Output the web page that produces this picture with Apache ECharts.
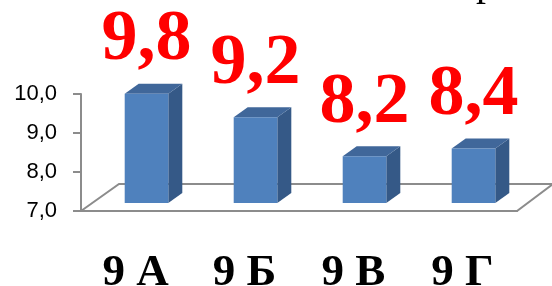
<!DOCTYPE html>
<html>
<head>
<meta charset="utf-8">
<script src="https://cdn.jsdelivr.net/npm/echarts@6/dist/echarts.min.js"></script>
<style>
  html, body { margin: 0; padding: 0; background: #fff; }
  #chart { width: 552px; height: 286px; }
</style>
</head>
<body>
<div id="chart"></div>
<script>
const categories = ['9 А', '9 Б', '9 В', '9 Г'];
const values = [9.8, 9.2, 8.2, 8.4];
const yMin = 7, yMax = 10, yStep = 1;

// 3d look: floor depth and where the bars sit inside it
const DEPTH_X = 36, DEPTH_Y = -27;
const SHIFT_X = 11, SHIFT_Y = -8;
const BAR_DX = 14, BAR_DY = -10;

const SERIF = 'Liberation Serif';

function commaNum(v, d) {
  return v.toFixed(d).replace('.', ',');
}

function renderFloor(params, api) {
  const a = api.coord([0, yMin]);
  const b = api.coord([categories.length - 1, yMin]);
  const half = api.size([1, 0])[0] / 2;
  const x0 = a[0] - half, x1 = b[0] + half, y = a[1];
  return {
    type: 'polygon',
    shape: { points: [[x0, y], [x0 + DEPTH_X + 2, y + DEPTH_Y], [x1 + DEPTH_X, y + DEPTH_Y], [x1, y]] },
    style: { fill: '#fff', stroke: '#8c8c8c', lineWidth: 2 }
  };
}

function renderBar(params, api) {
  const base = api.coord([api.value(0), yMin]);
  const top = api.coord([api.value(0), api.value(1)]);
  const bw = api.size([1, 0])[0] * 0.4;
  const x0 = base[0] - bw / 2 + SHIFT_X, x1 = x0 + bw;
  const yb = base[1] + SHIFT_Y, yt = top[1] + SHIFT_Y;
  return {
    type: 'group',
    children: [
      { type: 'polygon', shape: { points: [[x1, yb], [x1 + BAR_DX, yb + BAR_DY], [x1 + BAR_DX, yt + BAR_DY], [x1, yt]] },
        style: { fill: '#355987' } },
      { type: 'polygon', shape: { points: [[x0, yt], [x0 + BAR_DX, yt + BAR_DY], [x1 + BAR_DX, yt + BAR_DY], [x1, yt]] },
        style: { fill: '#40679a' } },
      { type: 'rect', shape: { x: x0, y: yt, width: bw, height: yb - yt },
        style: { fill: '#4f81bd' } }
    ]
  };
}

const chart = echarts.init(document.getElementById('chart'));
chart.setOption({
  animation: false,
  title: {
    text: 'р', left: 471, top: -41,
    textStyle: { fontFamily: SERIF, fontWeight: 'normal', fontSize: 40, color: '#000' }
  },
  grid: { left: 81, right: 35, top: 94, bottom: 75, outerBoundsMode: 'none', containLabel: false },
  xAxis: {
    type: 'category',
    data: categories,
    axisLine: { lineStyle: { color: '#8c8c8c', width: 2 } },
    axisTick: { length: 15, lineStyle: { color: '#8c8c8c', width: 2 } },
    axisLabel: { margin: 40, color: '#000', fontFamily: SERIF, fontWeight: 'bold', fontSize: 45 }
  },
  yAxis: {
    type: 'value',
    min: yMin, max: yMax, interval: yStep,
    axisLine: { show: true, lineStyle: { color: '#8c8c8c', width: 2 } },
    axisTick: { show: true, length: 8, lineStyle: { color: '#8c8c8c', width: 2 } },
    splitLine: { show: false },
    axisLabel: { margin: 24, color: '#000', fontFamily: 'Liberation Sans', fontSize: 22,
      formatter: v => commaNum(v, 1) }
  },
  series: [
    { type: 'custom', renderItem: renderFloor, data: [[0]], clip: false, z: 1, silent: true },
    { type: 'custom', renderItem: renderBar, clip: false, z: 3,
      data: values.map((v, i) => [i, v]) },
    {
      type: 'scatter', symbolSize: 0, z: 4, silent: true,
      itemStyle: { opacity: 1 },
      data: values.map((v, i) => [i, v]),
      label: {
        show: true, position: 'inside', offset: [SHIFT_X, SHIFT_Y - 53],
        formatter: p => commaNum(p.value[1], 1),
        color: '#ff0000', fontFamily: 'serif', fontWeight: 'bold', fontSize: 72
      }
    }
  ]
});
</script>
</body>
</html>
